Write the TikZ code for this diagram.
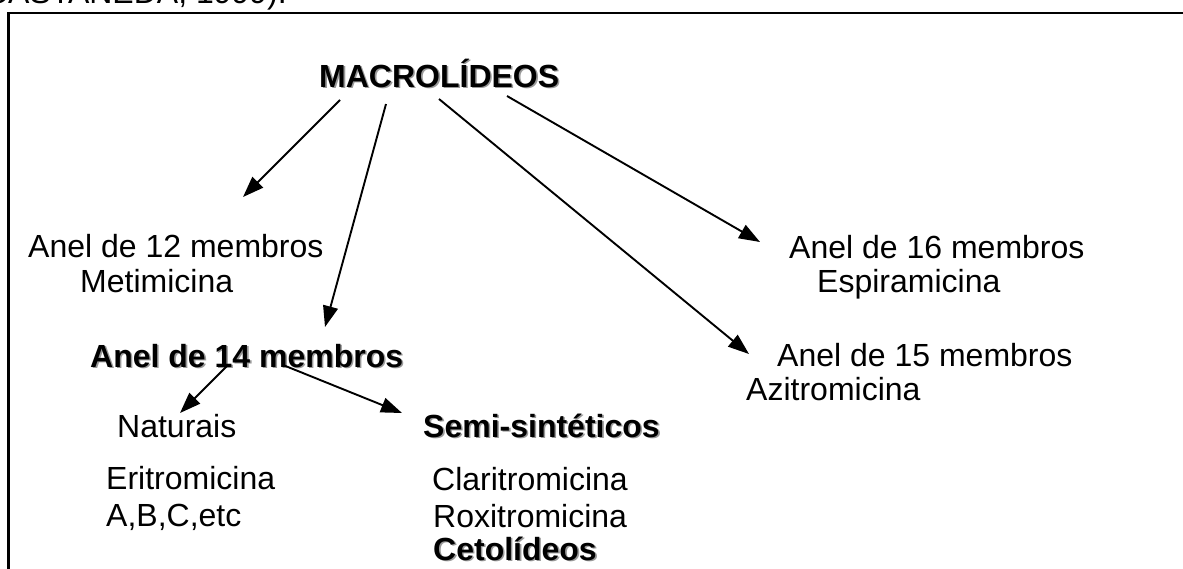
\documentclass[tikz,border=0pt]{standalone}
\usepackage{fontspec}
\setmainfont{Liberation Sans}
\usetikzlibrary{arrows.meta}

\newcommand\shad[1]{\makebox[0pt][l]{\hspace{1.6pt}\raisebox{-1.6pt}{\color{black!40}#1}}#1}

\begin{document}
\begin{tikzpicture}[x=1pt,y=-1pt,>={Triangle[length=21pt,width=15pt]},
   every node/.style={anchor=base west,inner sep=0pt,font=\fontsize{32}{38}\selectfont},
   bf/.style={font=\fontsize{32}{38}\selectfont\bfseries}]
   \useasboundingbox (0,0) rectangle (1183,568);
   \node[anchor=base east] (z) at (287,3) {CASTAÑEDA, 1999).};
   \draw[line width=2.2pt] (8.5,600) |- (1220,13);

   \node[bf] (m) at (319,87) {\shad{MACROLÍDEOS}};
   \node (a) at (28,257) {Anel de 12 membros};
   \node (a2) at (80,292) {Metimicina};
   \node[bf] (b) at (90,367) {\shad{Anel de 14 membros}};
   \node (c) at (777,366) {Anel de 15 membros};
   \node (c2) at (746,400) {Azitromicina};
   \node (d) at (789,258) {Anel de 16 membros};
   \node (d2) at (817,292) {Espiramicina};
   \node (e) at (117,437) {Naturais};
   \node (e2) at (106,489) {Eritromicina};
   \node (e3) at (106,526) {A,B,C,etc};
   \node[bf] (f) at (423,437) {\shad{Semi-sintéticos}};
   \node (f2) at (432,490) {Claritromicina};
   \node (f3) at (433,527) {Roxitromicina};
   \node[bf] (f4) at (433,560) {\shad{Cetolídeos}};

   \draw[->,line width=1.9pt] ([shift={(21,13)}]m.base west) -- ([shift={(215,-60)}]a.base west);
   \draw[->,line width=1.9pt] ([shift={(67,17)}]m.base west) -- ([shift={(235,-40)}]b.base west);
   \draw[->,line width=1.9pt] ([shift={(120,12)}]m.base west) -- ([shift={(-28,-12)}]c.base west);
   \draw[->,line width=1.9pt] ([shift={(188,9)}]m.base west) -- ([shift={(-29,-16)}]d.base west);
   \draw[->,line width=1.9pt] ([shift={(138,-2)}]b.base west) -- ([shift={(63,-24)}]e.base west);
   \draw[->,line width=1.9pt] ([shift={(193,-2)}]b.base west) -- ([shift={(-21,-24)}]f.base west);
\end{tikzpicture}
\end{document}
